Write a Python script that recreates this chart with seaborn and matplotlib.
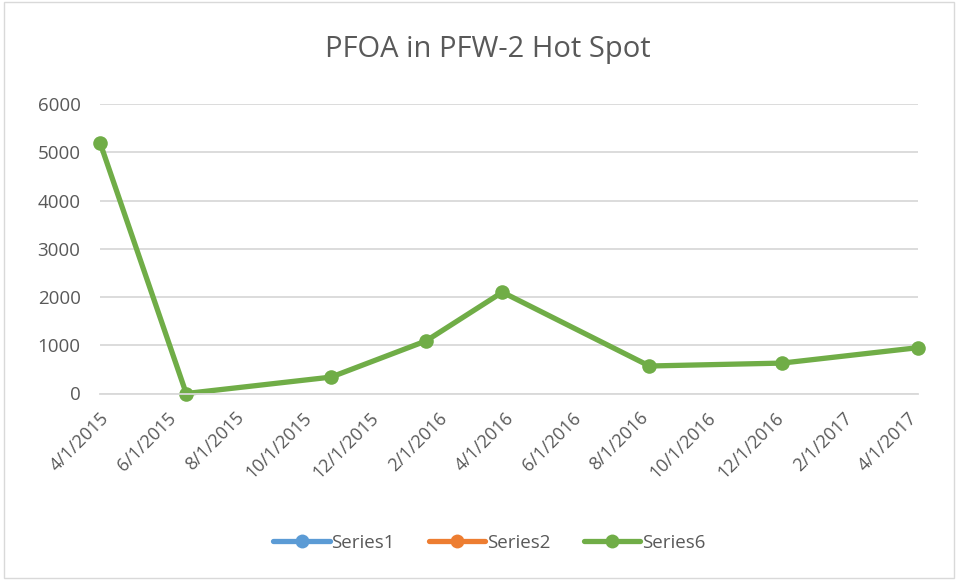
import pandas as pd
import matplotlib
matplotlib.use('Agg')
import matplotlib.pyplot as plt
import matplotlib.dates as mdates
from matplotlib.lines import Line2D
from matplotlib.patches import Rectangle
import seaborn as sns

# data
sample_dates = ['2015-04-01', '2015-06-18', '2015-10-27', '2016-01-21',
                '2016-03-30', '2016-08-10', '2016-12-08', '2017-04-10']
pfoa = [5200, 0, 340, 1090, 2100, 570, 630, 950]
series_names = ['Series1', 'Series2', 'Series6']
series_colors = ['#5B9BD5', '#ED7D31', '#70AD47']

df = pd.DataFrame({'date': pd.to_datetime(sample_dates), 'PFOA': pfoa})

sns.set_style('white')
plt.rcParams['font.family'] = ['Open Sans', 'DejaVu Sans']

fig = plt.figure(figsize=(9.56, 5.8), dpi=100)
ax = fig.add_axes([100 / 956, 1 - 393.5 / 580, 818 / 956, 289.5 / 580])

sns.lineplot(data=df, x='date', y='PFOA', ax=ax, color=series_colors[2],
             linewidth=3.8, marker='o', markersize=10.5, markeredgewidth=0,
             clip_on=False)

ax.set_ylim(0, 6000)
ax.set_xlim(pd.Timestamp('2015-04-01'), pd.Timestamp('2017-04-10'))
ax.set_yticks(range(0, 6001, 1000))
ax.yaxis.grid(True, color='#D9D9D9', linewidth=1.3)
ax.set_axisbelow(True)
for s in ['left', 'right', 'top']:
    ax.spines[s].set_visible(False)
ax.spines['bottom'].set_color('#D9D9D9')
ax.spines['bottom'].set_linewidth(1.3)

ax.xaxis.set_major_locator(mdates.MonthLocator(bymonth=[2, 4, 6, 8, 10, 12], bymonthday=1))
ax.xaxis.set_major_formatter(plt.FuncFormatter(
    lambda v, p: (lambda d: f'{d.month}/{d.day}/{d.year}')(mdates.num2date(v))))
ax.tick_params(axis='x', length=7, width=1.3, color='#D9D9D9', labelsize=13,
               labelcolor='#595959', pad=4)
ax.tick_params(axis='y', length=0, labelsize=13.5, labelcolor='#595959', pad=14)
for lbl in ax.get_xticklabels():
    lbl.set_rotation(45)
    lbl.set_ha('right')
    lbl.set_rotation_mode('anchor')
ax.set_xlabel('')
ax.set_ylabel('')

fig.text(0.51, 1 - 50 / 580, 'PFOA in PFW-2 Hot Spot', ha='center', va='center',
         fontsize=21, color='#595959')

handles = [Line2D([], [], color=c, linewidth=3.8, marker='o', markersize=10,
                  markeredgewidth=0) for c in series_colors]
fig.legend(handles, series_names, loc='center', bbox_to_anchor=(0.512, 1 - 543 / 580),
           ncol=3, frameon=False, fontsize=13.5, labelcolor='#595959',
           handlelength=3, handletextpad=0.1, columnspacing=1.8)

fig.patches.append(Rectangle((4 / 956, 2 / 580), 950 / 956, 576 / 580, fill=False,
                             edgecolor='#D9D9D9', linewidth=1,
                             transform=fig.transFigure, figure=fig))

fig.savefig('out.png', dpi=100)
